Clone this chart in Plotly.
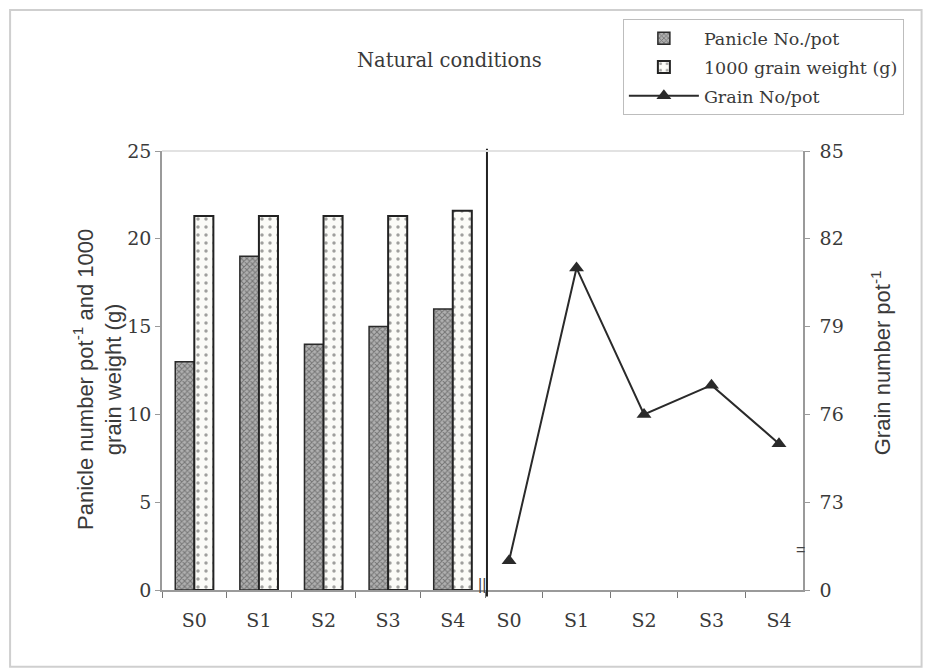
import plotly.graph_objects as go

categories = ["S0", "S1", "S2", "S3", "S4"]
panicle_no = [13, 19, 14, 15, 16]
grain_weight_1000 = [21.3, 21.3, 21.3, 21.3, 21.6]
grain_no = [71, 81, 76, 77, 75]  # S0 plotted within the broken-axis segment

left_ticks = [0, 5, 10, 15, 20, 25]
right_tickvals = [70, 73, 76, 79, 82, 85]
right_ticktext = ["0", "73", "76", "79", "82", "85"]

SERIF = "DejaVu Serif"
SANS = "Liberation Sans"
TXT = "#3a3a3a"
AX = "#9a9a9a"

fig = go.Figure()
fig.add_trace(go.Bar(
    x=categories, y=panicle_no, name="Panicle No./pot", legendgroup="a",
    marker=dict(color="#a8a8a8", line=dict(color="#2a2a2a", width=1.5),
                pattern=dict(shape="x", fgcolor="#3a3a3a", bgcolor="#b0b0b0", size=4, solidity=0.45)),
    xaxis="x", yaxis="y"))
fig.add_trace(go.Bar(
    x=categories, y=grain_weight_1000, name="1000 grain weight (g)", legendgroup="b",
    marker=dict(color="white", line=dict(color="#222222", width=2),
                pattern=dict(shape=".", fgcolor="#444444", bgcolor="#fbfbf7", size=8, solidity=0.15)),
    xaxis="x", yaxis="y"))
fig.add_trace(go.Scatter(
    x=categories, y=grain_no, name="Grain No/pot", mode="lines+markers", legendgroup="c",
    line=dict(color="#2a2a2a", width=2),
    marker=dict(symbol="triangle-up", size=13, color="#2a2a2a"),
    xaxis="x2", yaxis="y2"))

d1 = 0.504
fig.update_layout(
    width=925, height=670,
    margin=dict(l=162, r=122, t=151, b=80),
    paper_bgcolor="white", plot_bgcolor="white",
    barmode="group", bargap=0.41, bargroupgap=0,
    font=dict(family=SERIF, size=18, color=TXT),
    showlegend=True,
    legend=dict(x=0.719, y=1.30, xanchor="left", yanchor="top",
                bgcolor="white", bordercolor="#bdbdbd", borderwidth=1,
                font=dict(family=SERIF, size=17.5, color=TXT),
                itemwidth=70, tracegroupgap=3),
    xaxis=dict(domain=[0, d1], anchor="y", showline=True, linecolor=AX, linewidth=1.5,
               ticks="outside", ticklen=6, tickcolor="#777", tickson="boundaries",
               ticklabelstandoff=12,
               tickfont=dict(family=SERIF, size=19, color=TXT), showgrid=False, zeroline=False),
    yaxis=dict(domain=[0, 1], anchor="x", range=[0, 25], tickvals=left_ticks,
               showline=True, linecolor=AX, linewidth=1.5, ticks="outside", ticklen=5,
               tickcolor=AX, tickfont=dict(family=SERIF, size=19, color=TXT),
               showgrid=False, zeroline=False),
    xaxis2=dict(domain=[d1, 1], anchor="y2", showline=True, linecolor=AX, linewidth=1.5,
                ticks="outside", ticklen=6, tickcolor="#777", tickson="boundaries",
                ticklabelstandoff=12,
                tickfont=dict(family=SERIF, size=19, color=TXT), showgrid=False, zeroline=False),
    yaxis2=dict(domain=[0, 1], anchor="x2", side="right", range=[70, 85],
                tickvals=right_tickvals, ticktext=right_ticktext,
                showline=True, linecolor=AX, linewidth=1.5, ticks="outside", ticklen=5,
                tickcolor=AX, ticklabelstandoff=6, tickfont=dict(family=SERIF, size=19, color=TXT),
                showgrid=False, zeroline=False),
)

# divider line between panels
fig.add_shape(type="line", xref="x2 domain", yref="paper", x0=0.006, x1=0.006, y0=-0.015, y1=1.005,
              line=dict(color="#222222", width=2))
# faint top border
fig.add_shape(type="line", xref="paper", yref="paper", x0=0, x1=1, y0=1.0, y1=1.0,
              line=dict(color="#e2e2e2", width=2))
# outer frame
fig.add_shape(type="rect", xref="paper", yref="paper", x0=-0.237, x1=1.185, y0=-0.175, y1=1.321,
              line=dict(color="#cfcfcf", width=2))

# axis break marks
fig.add_annotation(text="||", xref="paper", yref="paper", x=0.499, y=-0.012, showarrow=False,
                   font=dict(family=SANS, size=16, color="#444"))
fig.add_annotation(text="=", xref="x2 domain", yref="y2", x=1.0, y=71.4, xshift=4, showarrow=False,
                   font=dict(family=SANS, size=16, color="#444"))

# title
fig.add_annotation(text="Natural conditions", xref="paper", yref="paper", x=0.449, y=1.238,
                   showarrow=False, font=dict(family=SERIF, size=19.5, color=TXT))
# axis titles
fig.add_annotation(text="Panicle number pot<sup>-1</sup> and 1000<br>grain weight (g)",
                   xref="paper", yref="paper", x=-0.148, y=0.48, textangle=-90, showarrow=False,
                   font=dict(family=SANS, size=22, color=TXT))
fig.add_annotation(text="Grain number pot<sup>-1</sup>", xref="paper", yref="paper",
                   x=1.147, y=0.517, textangle=-90, showarrow=False,
                   font=dict(family=SANS, size=22, color=TXT))

fig.write_html("out.html")
